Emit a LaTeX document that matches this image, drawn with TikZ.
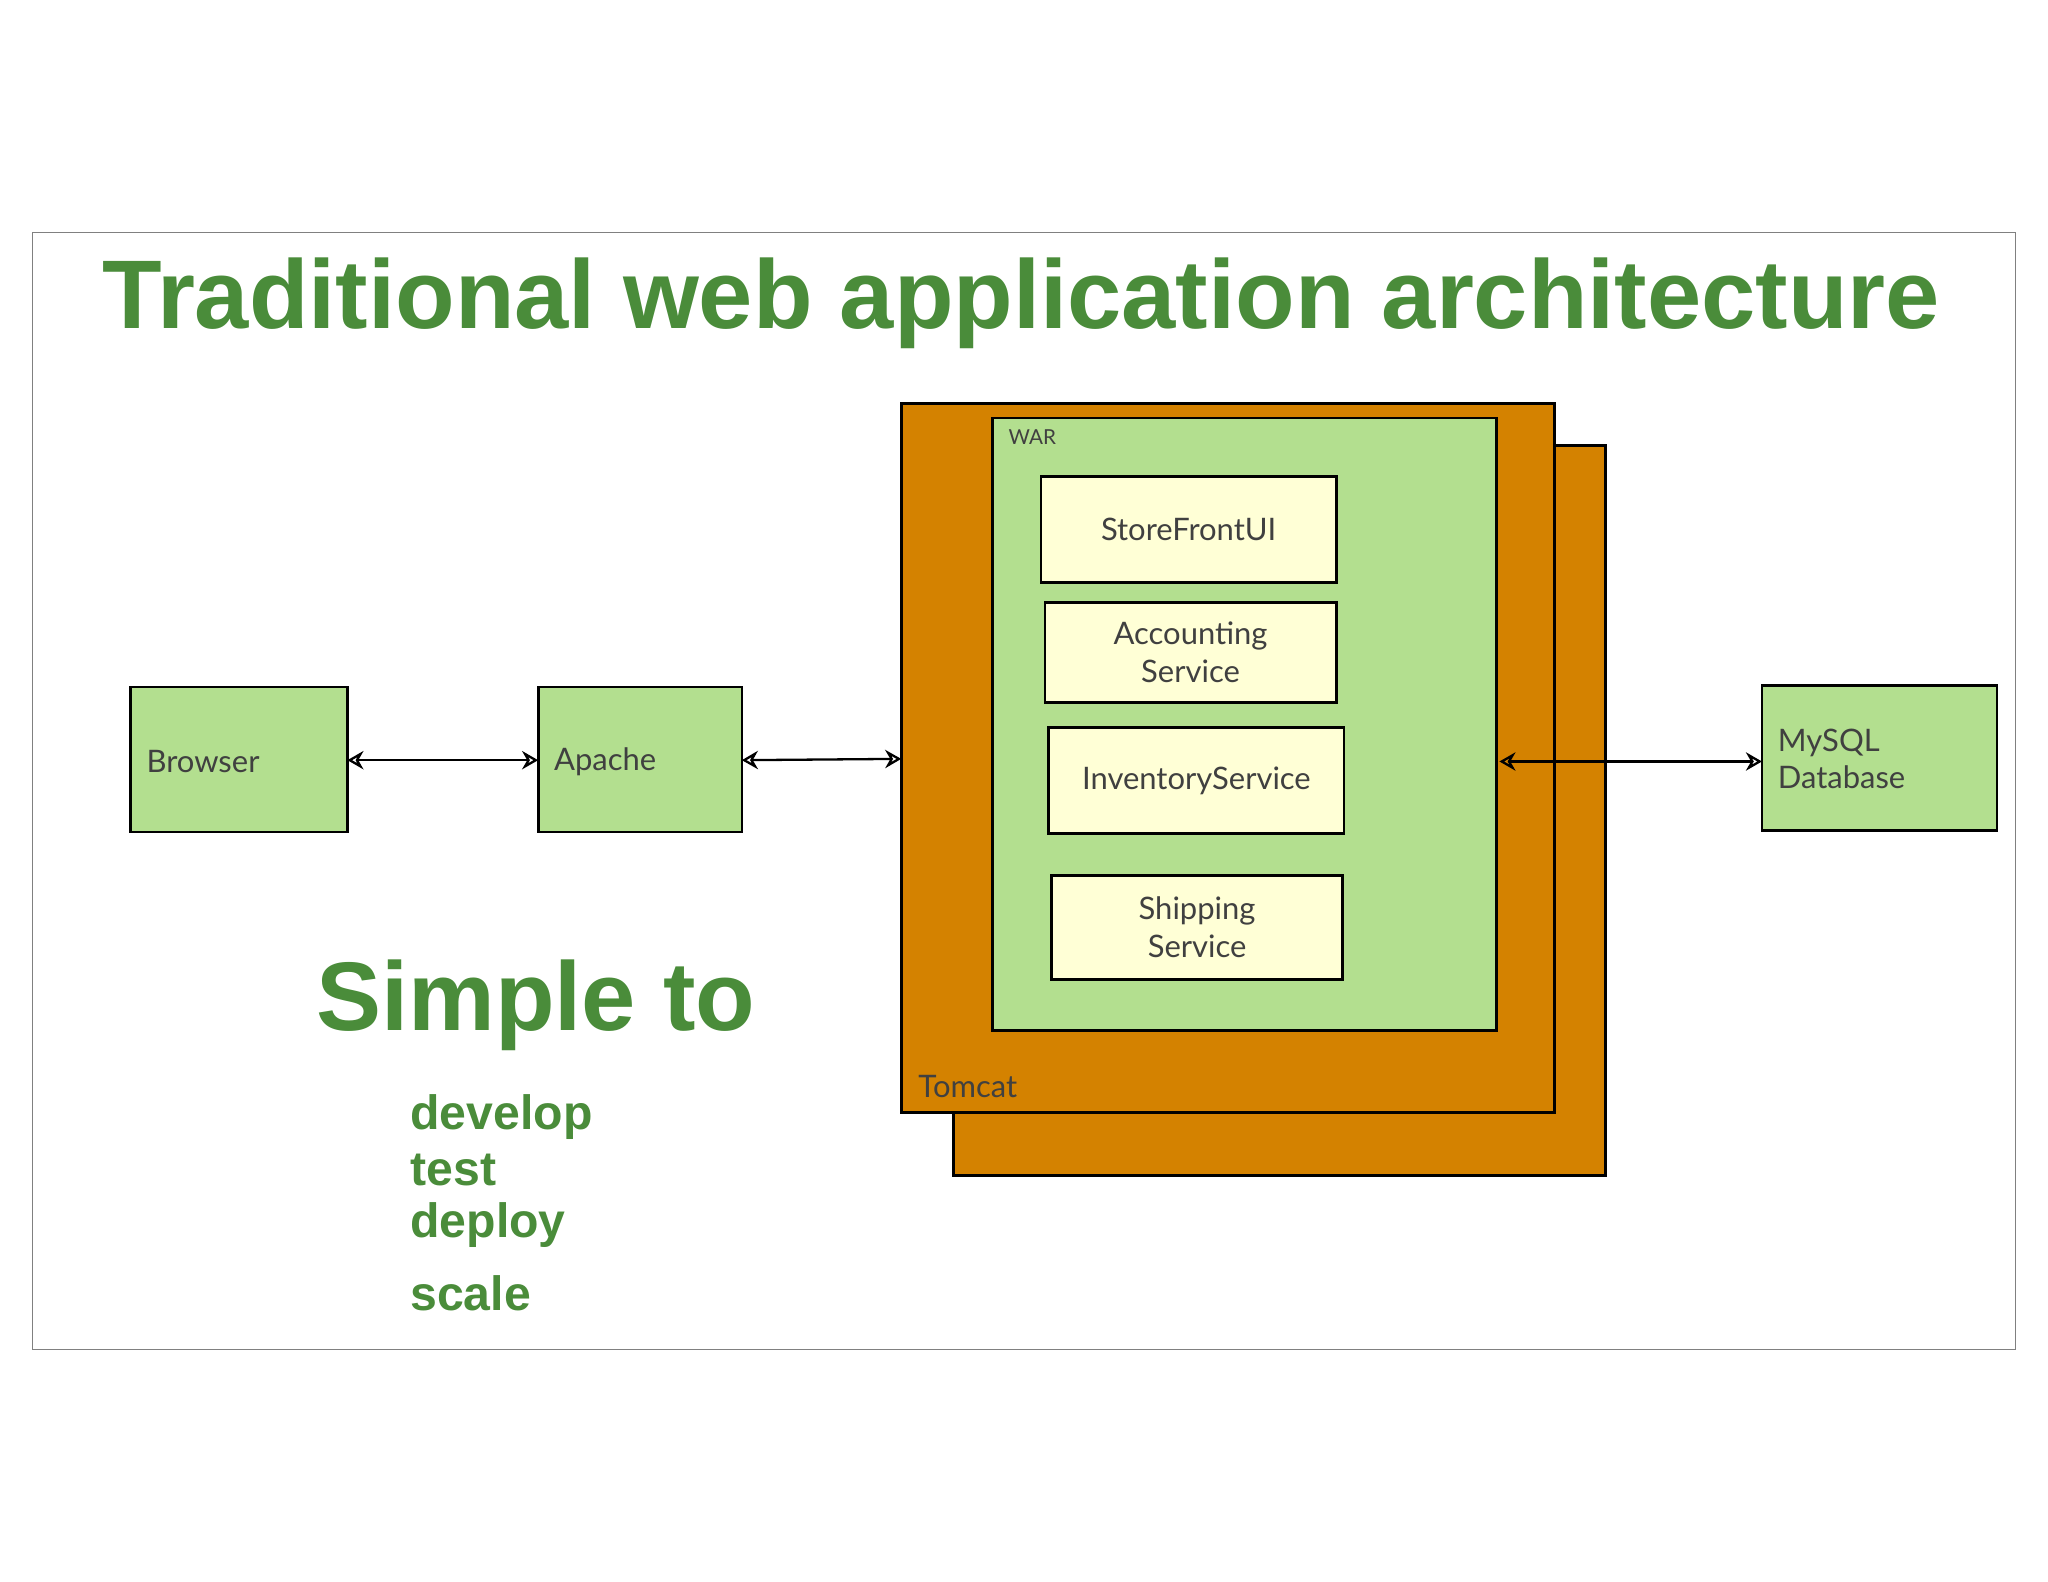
\documentclass[tikz,border=0pt]{standalone}
\usepackage{fontspec}
\setmainfont{Liberation Sans}
\newfontfamily\lab{Lato}
\usetikzlibrary{arrows.meta}
\definecolor{tgreen}{HTML}{4A8C3A}
\definecolor{lgreen}{HTML}{B3DF8F}
\definecolor{orng}{HTML}{D48200}
\definecolor{lyel}{HTML}{FFFFD6}
\begin{document}
\begin{tikzpicture}[x=0.02cm,y=-0.02cm,
  box/.style={draw=black,line width=1.2pt},
  lbl/.style={font=\lab\fontsize{13.5}{16.5}\selectfont,text=black!75,align=center},
  big/.style={font=\bfseries\fontsize{42.5}{48}\selectfont,text=tgreen},
  small/.style={font=\bfseries\fontsize{21}{24}\selectfont,text=tgreen,anchor=west},
  arr/.style={{Stealth[open,length=7pt,width=8pt]}-{Stealth[open,length=7pt,width=8pt]},line width=1pt}]
\useasboundingbox (0,0) rectangle (1568,1211);
\draw[gray,line width=0.6pt] (25,178) rectangle (1543,1033);
\node[big] (title) at (782,232) {Traditional web application architecture};
\fill[lgreen,draw=black,line width=1.2pt] (100,526) rectangle (266,637);
\node[lbl,anchor=west] (bl) at (106,583) {Browser};
\coordinate (bR) at (266,582);
\fill[lgreen,draw=black,line width=1.2pt] (412,526) rectangle (568,637);
\node[lbl,anchor=west] (al) at (418,583) {Apache};
\coordinate (aL) at (412,582); \coordinate (aR) at (568,582);
\fill[orng,draw=black,line width=1.2pt] (730,341) rectangle (1229,900);
\fill[orng,draw=black,line width=1.2pt] (690,309) rectangle (1190,852);
\coordinate (tL) at (690,581);
\node[lbl,anchor=west] (tl) at (697,832) {Tomcat};
\fill[lgreen,draw=black,line width=1.2pt] (760,320) rectangle (1146,789);
\coordinate (wR) at (1148,583);
\node[font=\lab\fontsize{9}{10}\selectfont,text=black!75,anchor=west] (wl) at (766,335) {WAR};
\node[box,fill=lyel,lbl,minimum width=4.52cm,minimum height=1.62cm] (sf) at (910,405.5) {StoreFrontUI};
\node[box,fill=lyel,lbl,minimum width=4.46cm,minimum height=1.54cm,inner sep=0] (ac) at (911.5,499.5) {Accounting\\Service};
\node[box,fill=lyel,lbl,minimum width=4.52cm,minimum height=1.62cm] (inv) at (916,597.5) {InventoryService};
\node[box,fill=lyel,lbl,minimum width=4.46cm,minimum height=1.6cm,inner sep=0] (sh) at (916.5,710) {Shipping\\Service};
\fill[lgreen,draw=black,line width=1.2pt] (1349,525) rectangle (1529,636);
\node[lbl,anchor=west,align=left] (my) at (1355,581) {MySQL\\Database};
\coordinate (mL) at (1349,583);
\draw[arr] (bR) -- (aL);
\draw[arr] (aR) -- (tL);
\draw[arr] (wR) -- (mL);
\node[big,anchor=west] (st) at (236,770) {Simple to};
\node[small] (l1) at (308,855) {develop};
\node[small] (l2) at (308,896) {test};
\node[small] (l3) at (308,938) {deploy};
\node[small] (l4) at (308,990) {scale};
\end{tikzpicture}
\end{document}
